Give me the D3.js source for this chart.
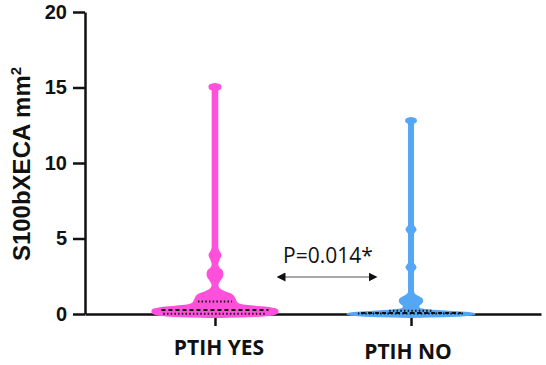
<!DOCTYPE html>
<html>
<head>
<meta charset="utf-8">
<script src="https://cdn.jsdelivr.net/npm/d3@7"></script>
<style>
    body { margin: 0; background: #fff; }
    .tick text { font-family: "Liberation Sans", Arial, sans-serif; font-weight: bold; font-size: 20px; fill: #111; }
</style>
</head>
<body>
<svg id="chart"></svg>
<script>
// violin outlines: value level -> relative half width (1 = widest)
const groups = ['PTIH YES', 'PTIH NO']
const colours = ['#ff50dc', '#55a7f5']

const pinkLevels = [-0.22, -0.15, -0.05, 0.1, 0.25, 0.4, 0.5, 0.6, 0.75, 1.0, 1.25, 1.45, 1.65, 1.9, 2.2, 2.45, 2.65, 2.85, 3.05, 3.3, 3.6, 3.9, 4.15, 4.4, 14.8, 14.95, 15.1, 15.2, 15.25]
const pinkWidths = [0, 0.62, 0.9, 0.98, 0.98, 0.86, 0.62, 0.42, 0.34, 0.31, 0.27, 0.16, 0.07, 0.04, 0.07, 0.11, 0.12, 0.11, 0.06, 0.04, 0.06, 0.09, 0.06, 0.04, 0.04, 0.085, 0.09, 0.06, 0]

const blueLevels = [-0.22, -0.12, 0.0, 0.1, 0.2, 0.3, 0.4, 0.55, 0.7, 0.85, 1.0, 1.15, 1.3, 1.5, 2.8, 3.1, 3.4, 5.3, 5.6, 5.9, 12.6, 12.75, 12.9, 13.0]
const blueWidths = [0, 0.78, 1.0, 0.86, 0.47, 0.19, 0.125, 0.117, 0.156, 0.18, 0.17, 0.11, 0.055, 0.035, 0.035, 0.075, 0.035, 0.035, 0.075, 0.035, 0.035, 0.08, 0.075, 0]

const medians = [0.27, 0.07]
const quartiles = [[0.01, 0.82], [0.03, 0.22]]

const yTicks = [0, 5, 10, 15, 20]
const pLabel = 'P=0.014*'

const width = 546
const height = 365
let margin = { top: 12, right: 5, bottom: 51, left: 85 }

const svg = d3.select('#chart')
    .attr('width', width)
    .attr('height', height)

const x = d3.scalePoint()
    .domain(groups)
    .range([margin.left, width - margin.right])
    .padding(0.663)

const y = d3.scaleLinear()
    .domain([0, 20])
    .range([height - margin.bottom, margin.top])

const w = d3.scaleLinear()
    .domain([0, 1])
    .range([0, 64])

// axes
let yAxis = svg.append('g')
    .attr('transform', `translate(${margin.left},0)`)
    .call(d3.axisLeft(y).tickValues(yTicks).tickSize(12).tickSizeOuter(0).tickPadding(6))
yAxis.selectAll('path, line').attr('stroke', '#111').attr('stroke-width', 2.5)

let xAxis = svg.append('g')
    .attr('transform', `translate(0,${y(0)})`)
    .call(d3.axisBottom(x).tickSize(12).tickSizeOuter(0).tickFormat(''))
xAxis.selectAll('path, line').attr('stroke', '#111').attr('stroke-width', 2.5)

// violins
const profiles = [
    pinkLevels.map((v, i) => ({ v: v, d: pinkWidths[i] })),
    blueLevels.map((v, i) => ({ v: v, d: blueWidths[i] }))
]

groups.forEach((g, i) => {
    let cx = x(g)
    let area = d3.area()
        .y(d => y(d.v))
        .x0(d => cx - w(d.d))
        .x1(d => cx + w(d.d))
        .curve(d3.curveMonotoneY)

    svg.append('path')
        .datum(profiles[i])
        .attr('d', area)
        .style('fill', colours[i])
        .style('stroke', colours[i])
        .style('stroke-width', 1.5)

    // half width of the outline at a value, for the median / quartile lines
    let halfAt = v => {
        let p = profiles[i]
        let k = d3.bisector(d => d.v).left(p, v)
        let a = p[Math.max(k - 1, 0)], b = p[k]
        let t = b.v === a.v ? 0 : (v - a.v) / (b.v - a.v)
        return w(a.d + t * (b.d - a.d))
    }

    let lines = [
        { v: medians[i], dash: '4,3' },
        { v: quartiles[i][0], dash: '1.5,2.2' },
        { v: quartiles[i][1], dash: '1.5,2.2' }
    ]
    svg.append('g')
        .selectAll('line')
        .data(lines)
        .join('line')
        .attr('x1', d => cx - halfAt(d.v) * 0.9 + 2)
        .attr('x2', d => cx + halfAt(d.v) * 0.9 - 2)
        .attr('y1', d => y(d.v))
        .attr('y2', d => y(d.v))
        .attr('stroke', '#111')
        .attr('stroke-width', 2)
        .attr('stroke-dasharray', d => d.dash)
})

// category labels
svg.append('g')
    .selectAll('text')
    .data(groups)
    .join('text')
    .attr('x', (d, i) => x(d) + (i ? -3 : 4))
    .attr('y', (d, i) => y(0) + (i ? 45 : 41))
    .attr('text-anchor', 'middle')
    .style('font-family', '"Open Sans", sans-serif')
    .style('font-weight', 'bold')
    .style('font-size', '21px')
    .style('fill', '#111')
    .text(d => d)

// y title
let title = svg.append('text')
    .attr('transform', `translate(30,${(y(0) + y(20)) / 2 + 1}) rotate(-90)`)
    .attr('text-anchor', 'middle')
    .style('font-family', '"Liberation Sans", Arial, sans-serif')
    .style('font-weight', 'bold')
    .style('font-size', '24px')
    .style('fill', '#111')
title.append('tspan').text('S100bXECA mm')
title.append('tspan').attr('dy', -9).style('font-size', '15px').text('2')

// p-value annotation with a double arrow
const mid = (x(groups[0]) + x(groups[1])) / 2 + 14

svg.append('defs').selectAll('marker')
    .data(['start', 'end'])
    .join('marker')
    .attr('id', d => 'arrow-' + d)
    .attr('viewBox', '0 0 10 10')
    .attr('refX', 5)
    .attr('refY', 5)
    .attr('markerWidth', 9)
    .attr('markerHeight', 9)
    .attr('markerUnits', 'userSpaceOnUse')
    .attr('orient', 'auto-start-reverse')
    .append('path')
    .attr('d', 'M0,0L10,5L0,10Z')
    .attr('fill', '#111')

svg.append('line')
    .attr('x1', mid - 46)
    .attr('x2', mid + 46)
    .attr('y1', y(2.45))
    .attr('y2', y(2.45))
    .attr('stroke', '#555')
    .attr('stroke-width', 1.2)
    .attr('marker-start', 'url(#arrow-start)')
    .attr('marker-end', 'url(#arrow-end)')

svg.append('text')
    .attr('x', mid + 1)
    .attr('y', y(3.4))
    .attr('text-anchor', 'middle')
    .style('font-family', '"Open Sans", sans-serif')
    .style('font-size', '21px')
    .style('fill', '#111')
    .text(pLabel)
</script>
</body>
</html>
